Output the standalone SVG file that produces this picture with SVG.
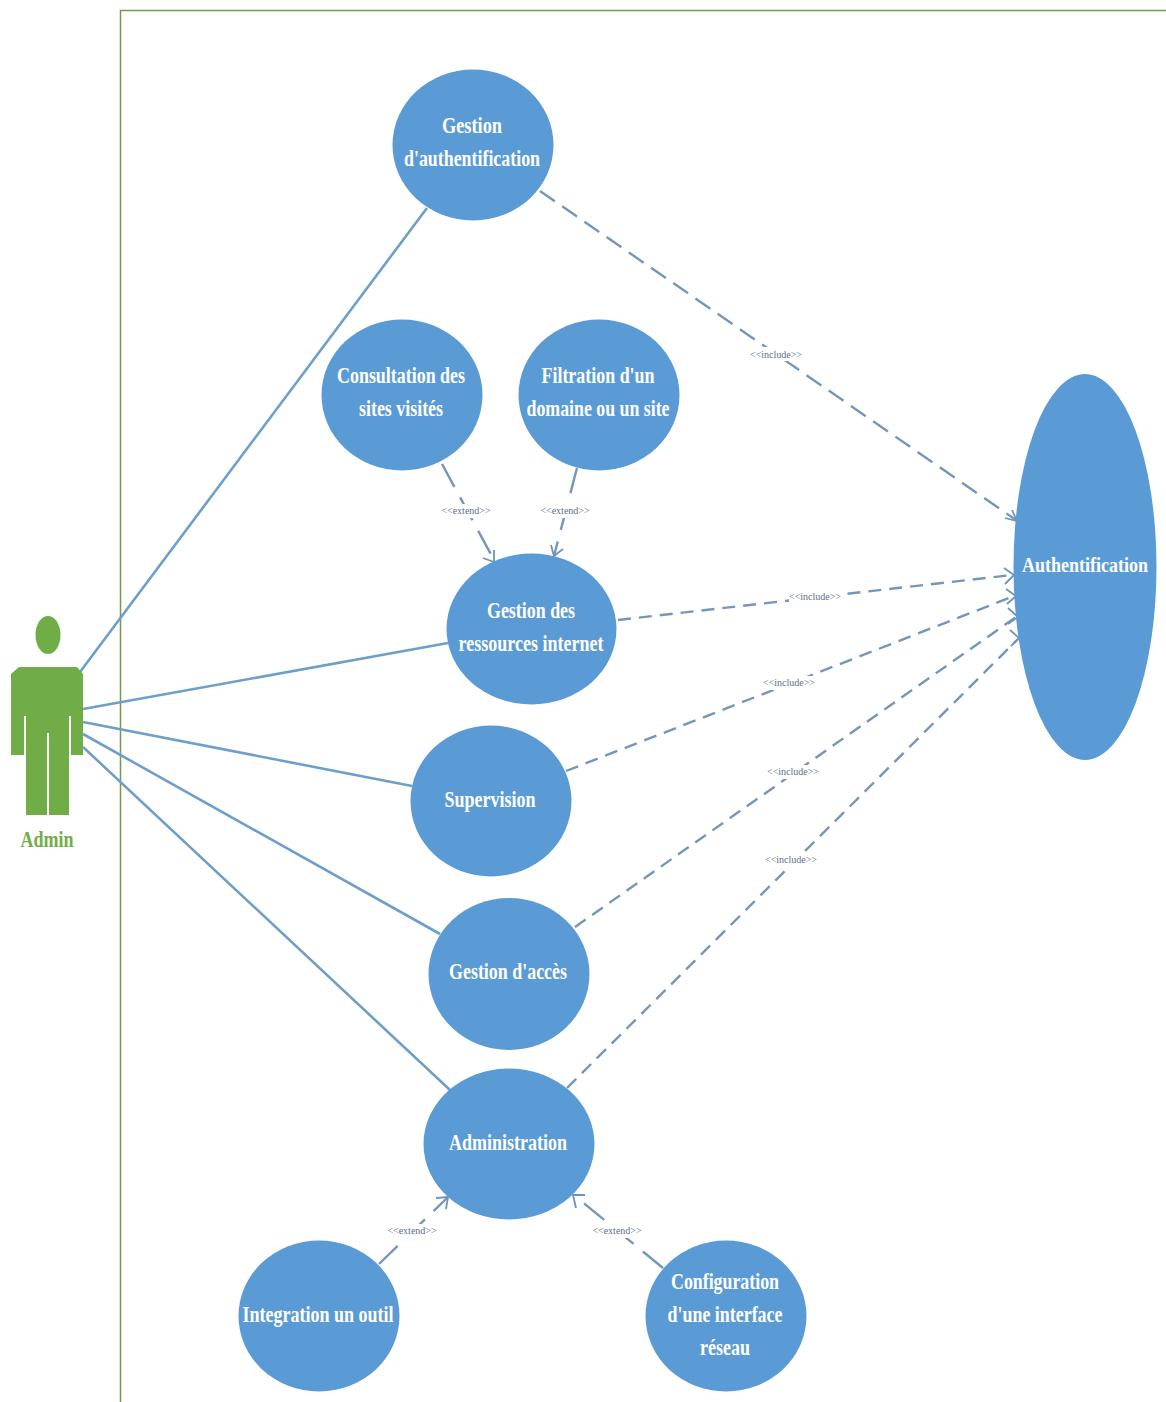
<svg xmlns="http://www.w3.org/2000/svg" width="1166" height="1402" viewBox="0 0 1166 1402">
<style>
.uc{fill:#5b9bd5}
.t{font-family:"Liberation Serif","Times New Roman",serif;font-weight:bold;font-size:24px;fill:#fff;text-anchor:middle}
.a{fill:#70ad47}
.assoc{stroke:#6f9fc9;stroke-width:2.6;fill:none}
.dep{stroke:#7596b8;stroke-width:2.4;fill:none;stroke-dasharray:13 8}
.head{stroke:#6f93b8;stroke-width:1.8;fill:none}
.lb{fill:#fff}
.l{font-family:"Liberation Serif",serif;font-size:10px;fill:#5c6f88;text-anchor:middle}
</style>
<rect width="1166" height="1402" fill="#fff"/>
<path id="boundary" d="M120.500 1402V10.500H1166" fill="none" stroke="#6f9d4a" stroke-width="1.500"/>
<g id="connectors">
<path class="assoc" d="M80 672L427 208M83 709L448 643M83 722L412 786M83 734L440 934M83 747L450 1090"/>
<path class="dep" style="stroke-dasharray:18 9" d="M540 191L1016 520"/>
<path class="dep" d="M618 620L1012 575M566 771L1014 596M575 927L1016 617M567 1088L1018 639"/>
<path class="dep" style="stroke-dasharray:26 12" d="M442 464L494 560M577 468L554 556M379 1264L447 1198M663 1268L575 1196"/>
<path class="head" d="M1005 518L1017 521L1012 510M1004 568L1014 575L1005 584M1006 589L1016 596L1007 604M1008 608L1018 617L1008 624M1010 630L1019 638L1011 646"/>
<path class="head" d="M483 558L494 562L494 550M551 545L554 556L563 549M436 1198L448 1197L446 1209M576 1208L573 1195L585 1195"/>
<g>
<rect class="lb" x="750" y="347" width="52" height="14"/><text class="l" x="776" y="358">&lt;&lt;include&gt;&gt;</text>
<rect class="lb" x="789" y="590" width="52" height="14"/><text class="l" x="815" y="600">&lt;&lt;include&gt;&gt;</text>
<rect class="lb" x="763" y="676" width="52" height="14"/><text class="l" x="789" y="686">&lt;&lt;include&gt;&gt;</text>
<rect class="lb" x="767" y="765" width="52" height="14"/><text class="l" x="793" y="775">&lt;&lt;include&gt;&gt;</text>
<rect class="lb" x="765" y="853" width="52" height="14"/><text class="l" x="791" y="863">&lt;&lt;include&gt;&gt;</text>
<rect class="lb" x="441" y="504" width="50" height="14"/><text class="l" x="466" y="514">&lt;&lt;extend&gt;&gt;</text>
<rect class="lb" x="540" y="504" width="50" height="14"/><text class="l" x="565" y="514">&lt;&lt;extend&gt;&gt;</text>
<rect class="lb" x="387" y="1224" width="50" height="14"/><text class="l" x="412" y="1234">&lt;&lt;extend&gt;&gt;</text>
<rect class="lb" x="592" y="1224" width="50" height="14"/><text class="l" x="617" y="1234">&lt;&lt;extend&gt;&gt;</text>
</g>
</g>
<g id="actor-admin">
<ellipse class="a" cx="48" cy="635" rx="12.500" ry="19"/>
<path class="a" d="M19 667H77L83 674V755H71V716H69V815H49V733H47V815H26V716H24V755H11V674Z"/>
<text x="47" y="847" text-anchor="middle" font-family="Liberation Serif, serif" font-weight="bold" font-size="24" fill="#70ad47" textLength="53" lengthAdjust="spacingAndGlyphs">Admin</text>
</g>
<g id="uc-gestion-auth"><ellipse class="uc" cx="473" cy="145" rx="80.500" ry="75.500"/>
<text class="t" x="472" y="133" textLength="60" lengthAdjust="spacingAndGlyphs">Gestion</text>
<text class="t" x="472" y="166" textLength="136" lengthAdjust="spacingAndGlyphs">d'authentification</text></g>
<g id="uc-consultation"><ellipse class="uc" cx="402" cy="395" rx="80.500" ry="75.500"/>
<text class="t" x="401" y="383" textLength="128" lengthAdjust="spacingAndGlyphs">Consultation des</text>
<text class="t" x="401" y="416" textLength="84" lengthAdjust="spacingAndGlyphs">sites visités</text></g>
<g id="uc-filtration"><ellipse class="uc" cx="599" cy="395" rx="80.500" ry="75.500"/>
<text class="t" x="598" y="383" textLength="113" lengthAdjust="spacingAndGlyphs">Filtration d'un</text>
<text class="t" x="598" y="416" textLength="143" lengthAdjust="spacingAndGlyphs">domaine ou un site</text></g>
<g id="uc-ressources"><ellipse class="uc" cx="531.500" cy="629" rx="85" ry="75.500"/>
<text class="t" x="531" y="618" textLength="88" lengthAdjust="spacingAndGlyphs">Gestion des</text>
<text class="t" x="531" y="651" textLength="145" lengthAdjust="spacingAndGlyphs">ressources internet</text></g>
<g id="uc-supervision"><ellipse class="uc" cx="491" cy="801" rx="80.500" ry="75.500"/>
<text class="t" x="490" y="807" textLength="91" lengthAdjust="spacingAndGlyphs">Supervision</text></g>
<g id="uc-acces"><ellipse class="uc" cx="509" cy="974" rx="80.500" ry="76"/>
<text class="t" x="508" y="979" textLength="118" lengthAdjust="spacingAndGlyphs">Gestion d'accès</text></g>
<g id="uc-administration"><ellipse class="uc" cx="509" cy="1144" rx="85.500" ry="75.500"/>
<text class="t" x="508" y="1150" textLength="118" lengthAdjust="spacingAndGlyphs">Administration</text></g>
<g id="uc-integration"><ellipse class="uc" cx="319" cy="1316" rx="80.500" ry="75.500"/>
<text class="t" x="318" y="1322" textLength="151" lengthAdjust="spacingAndGlyphs">Integration un outil</text></g>
<g id="uc-configuration"><ellipse class="uc" cx="726" cy="1316" rx="80.500" ry="75.500"/>
<text class="t" x="725" y="1289" textLength="108" lengthAdjust="spacingAndGlyphs">Configuration</text>
<text class="t" x="725" y="1322" textLength="115" lengthAdjust="spacingAndGlyphs">d'une interface</text>
<text class="t" x="725" y="1355" textLength="50" lengthAdjust="spacingAndGlyphs">réseau</text></g>
<g id="uc-authentification"><ellipse class="uc" cx="1085" cy="567" rx="71.500" ry="193"/>
<text class="t" style="font-size:22px" x="1085" y="572" textLength="126" lengthAdjust="spacingAndGlyphs">Authentification</text></g>
</svg>
